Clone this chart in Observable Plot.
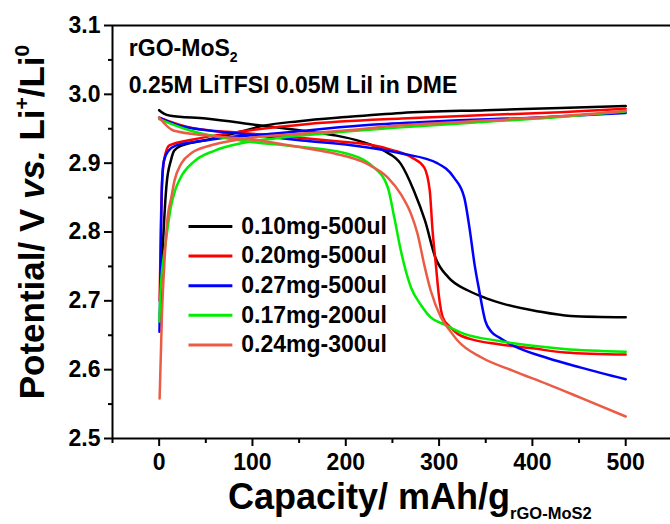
<!DOCTYPE html>
<html>
<head>
<meta charset="utf-8">
<script src="https://cdn.jsdelivr.net/npm/d3@7"></script>
<script src="https://cdn.jsdelivr.net/npm/@observablehq/plot@0.6"></script>
<style>
  html, body { margin: 0; padding: 0; background: #fff; }
  #chart svg { display: block; }
</style>
</head>
<body>
<div id="chart"></div>
<script>
// ---------- data ----------
const seriesNames = ["0.10mg-500ul", "0.20mg-500ul", "0.27mg-500ul", "0.17mg-200ul", "0.24mg-300ul"];
const seriesColors = ["#000000", "#ff0000", "#0000ff", "#00ee00", "#ea5c46"];

// 0.10mg-500ul
const blackChargeCap = [1, 4, 8, 12.6, 16, 23, 52, 88, 110, 150, 200, 260, 350, 430, 500];
const blackChargeV   = [2.68, 2.78, 2.87, 2.904, 2.918, 2.925, 2.934, 2.946, 2.954, 2.961, 2.967, 2.973, 2.977, 2.980, 2.983];
const blackDisCap = [0, 5, 12, 50, 107, 160, 190, 215, 241, 259, 273, 285, 296, 310, 331, 350, 368, 405, 441, 500];
const blackDisV   = [2.977, 2.972, 2.969, 2.965, 2.955, 2.946, 2.940, 2.932, 2.918, 2.899, 2.860, 2.816, 2.763, 2.734, 2.715, 2.704, 2.696, 2.685, 2.678, 2.676];

// 0.20mg-500ul
const redChargeCap = [0.5, 2, 4, 7, 11, 35, 88, 160, 260, 350, 430, 500];
const redChargeV   = [2.70, 2.82, 2.89, 2.915, 2.926, 2.934, 2.946, 2.957, 2.965, 2.970, 2.974, 2.979];
const redDisCap = [0, 35, 88, 142, 196, 225, 250, 271, 284, 290, 293, 296.5, 300, 304, 311, 320, 335, 364, 400, 435, 500];
const redDisV   = [2.966, 2.951, 2.944, 2.938, 2.931, 2.927, 2.919, 2.908, 2.894, 2.860, 2.802, 2.753, 2.705, 2.676, 2.663, 2.652, 2.644, 2.637, 2.631, 2.625, 2.622];

// 0.27mg-500ul
const blueChargeCap = [0.3, 1, 2, 3, 5, 10, 17, 35, 70, 124, 177, 231, 300, 400, 500];
const blueChargeV   = [2.655, 2.70, 2.80, 2.87, 2.903, 2.918, 2.925, 2.930, 2.937, 2.943, 2.950, 2.956, 2.961, 2.966, 2.973];
const blueDisCap = [0, 20, 50, 100, 153, 206, 260, 298, 316, 327, 333, 338, 343, 349.5, 356, 364, 384, 416, 452, 500];
const blueDisV   = [2.966, 2.955, 2.948, 2.941, 2.933, 2.926, 2.914, 2.900, 2.879, 2.850, 2.802, 2.753, 2.715, 2.671, 2.655, 2.647, 2.632, 2.617, 2.603, 2.586];

// 0.17mg-200ul
const greenChargeCap = [0.3, 1, 2.5, 4.5, 7, 9.5, 12.5, 17, 23, 37, 59, 88, 124, 177, 260, 350, 430, 500];
const greenChargeV   = [2.67, 2.70, 2.735, 2.76, 2.785, 2.81, 2.836, 2.86, 2.879, 2.902, 2.918, 2.929, 2.936, 2.943, 2.952, 2.960, 2.967, 2.975];
const greenDisCap = [0, 34, 87, 141, 195, 230, 245, 252, 259, 270, 280, 291, 305, 327, 363, 398, 434, 500];
const greenDisV   = [2.964, 2.947, 2.933, 2.925, 2.916, 2.894, 2.865, 2.821, 2.773, 2.719, 2.695, 2.676, 2.666, 2.652, 2.642, 2.635, 2.630, 2.626];

// 0.24mg-300ul
const orangeChargeCap = [0.5, 3, 5.8, 9, 13, 16.5, 24, 35, 53, 88, 142, 196, 260, 350, 430, 500];
const orangeChargeV   = [2.558, 2.68, 2.759, 2.82, 2.85, 2.875, 2.90, 2.915, 2.925, 2.935, 2.942, 2.947, 2.955, 2.962, 2.968, 2.976];
const orangeDisCap = [0, 16, 53, 107, 152, 188, 223, 245, 259, 270, 277, 284, 291, 302, 312, 320, 345, 380, 416, 452, 500];
const orangeDisV   = [2.966, 2.947, 2.940, 2.933, 2.923, 2.914, 2.899, 2.879, 2.855, 2.826, 2.797, 2.753, 2.715, 2.676, 2.656, 2.642, 2.618, 2.598, 2.579, 2.559, 2.532];

// axes
const xDomain = [-50, 548];
const yDomain = [2.5, 3.1];
const xMajorTicks = [0, 100, 200, 300, 400, 500];
const xMinorTicks = [-50, 50, 150, 250, 350, 450];
const yMajorTicks = [2.5, 2.6, 2.7, 2.8, 2.9, 3.0, 3.1];
const yMinorTicks = [2.55, 2.65, 2.75, 2.85, 2.95, 3.05];

// legend placement (data units)
const legendY = [2.808, 2.765, 2.722, 2.679, 2.636];
const legendLineX1 = 32;
const legendLineX2 = 79;
const legendTextX = 88;

// annotations
const noteTexts = ["rGO-MoS2", "0.25M LiTFSI 0.05M LiI in DME"];
const noteX = -32.5;
const noteY = [3.056, 3.0025];

// ---------- build ----------
const curves = [
  [blackChargeCap, blackChargeV, blackDisCap, blackDisV],
  [redChargeCap, redChargeV, redDisCap, redDisV],
  [blueChargeCap, blueChargeV, blueDisCap, blueDisV],
  [greenChargeCap, greenChargeV, greenDisCap, greenDisV],
  [orangeChargeCap, orangeChargeV, orangeDisCap, orangeDisV]
];
const rows = (c, v) => c.map((d, i) => ({cap: d, v: v[i]}));

const lineMarks = [];
curves.forEach((arr, i) => {
  lineMarks.push(Plot.line(rows(arr[0], arr[1]), {x: "cap", y: "v", stroke: seriesColors[i], strokeWidth: 2.5, curve: "monotone-x"}));
  lineMarks.push(Plot.line(rows(arr[2], arr[3]), {x: "cap", y: "v", stroke: seriesColors[i], strokeWidth: 2.5, curve: "monotone-x"}));
});

const legendRows = seriesNames.map((n, i) => ({name: n, color: seriesColors[i], y: legendY[i]}));
const noteRows = noteTexts.map((t, i) => ({t, y: noteY[i]}));

const font = "'Liberation Sans', Arial, Helvetica, sans-serif";

const plot = Plot.plot({
  width: 670,
  height: 524,
  marginLeft: 112,
  marginRight: 0,
  marginTop: 25,
  marginBottom: 86,
  x: {domain: xDomain},
  y: {domain: yDomain},
  color: {type: "identity"},
  style: {fontFamily: font, fontWeight: "bold", fontSize: "22px", background: "#fff", color: "#000", overflow: "visible"},
  marks: [
    ...lineMarks,
    Plot.ruleY(legendRows, {y: "y", x1: legendLineX1, x2: legendLineX2, stroke: "color", strokeWidth: 3}),
    Plot.text(legendRows, {x: legendTextX, y: "y", text: "name", textAnchor: "start", lineAnchor: "middle", fontSize: 23, fontWeight: "bold", fill: "#000"}),
    Plot.text(noteRows, {x: noteX, y: "y", text: "t", textAnchor: "start", lineAnchor: "bottom", fontSize: 23, fontWeight: "bold", fill: "#000"}),
    Plot.ruleY([yDomain[0], yDomain[1]], {stroke: "#000", strokeWidth: 2}),
    Plot.ruleX([xDomain[0]], {stroke: "#000", strokeWidth: 2}),
    Plot.axisX({ticks: xMajorTicks, tickSize: 8, tickPadding: 7, tickFormat: d => String(d), strokeWidth: 2, fontSize: 23, fontWeight: "bold", label: null}),
    Plot.axisX({ticks: xMinorTicks, tickSize: 5, fill: "none", strokeWidth: 2, label: null}),
    Plot.axisY({ticks: yMajorTicks, tickSize: 8, tickPadding: 4, tickFormat: d => d.toFixed(1), strokeWidth: 2, fontSize: 23, fontWeight: "bold", label: null}),
    Plot.axisY({ticks: yMinorTicks, tickSize: 4, fill: "none", strokeWidth: 2, label: null})
  ]
});

document.getElementById("chart").appendChild(plot);

// ---------- post-process: sub/superscripts and axis titles ----------
const svg = d3.select(plot);
svg.selectAll("text").each(function() {
  if (this.textContent === "rGO-MoS2") {
    const t = d3.select(this);
    t.text("rGO-MoS");
    t.append("tspan").attr("dy", 6).attr("font-size", 14).text("2");
  }
});

// x axis title
const xt = svg.append("text")
  .attr("x", 228).attr("y", 509)
  .attr("text-anchor", "start")
  .attr("font-family", font).attr("font-weight", "bold").attr("font-size", 36)
  .attr("fill", "#000");
xt.append("tspan").text("Capacity/ mAh/g");
xt.append("tspan").attr("font-size", 16.5).attr("dy", 10).text("rGO-MoS2");

// y axis title
const yt = svg.append("text")
  .attr("transform", "translate(44,222) rotate(-90)")
  .attr("text-anchor", "middle")
  .attr("font-family", font).attr("font-weight", "bold").attr("font-size", 35)
  .attr("fill", "#000");
yt.append("tspan").text("Potential/ V ");
yt.append("tspan").attr("font-style", "italic").text("vs.");
yt.append("tspan").text(" Li");
yt.append("tspan").attr("font-size", 21).attr("dy", -15).text("+");
yt.append("tspan").attr("dy", 15).text("/Li");
yt.append("tspan").attr("font-size", 21).attr("dy", -15).text("0");
</script>
</body>
</html>
